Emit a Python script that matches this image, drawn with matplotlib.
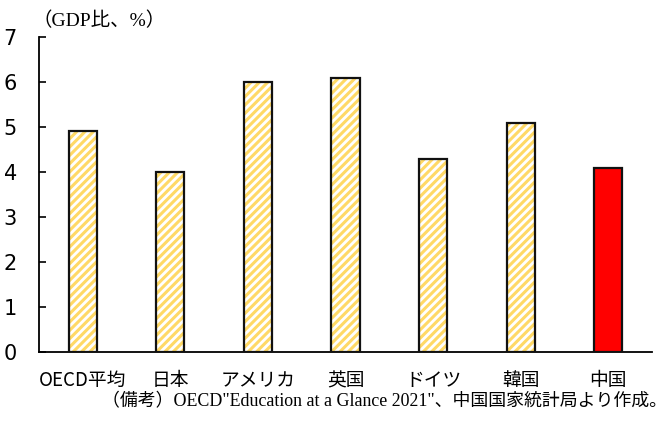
import matplotlib
matplotlib.use("Agg")
import matplotlib.pyplot as plt
import numpy as np

categories = ["OECD平均", "日本", "アメリカ", "英国", "ドイツ", "韓国", "中国"]
values = [4.9, 4.0, 6.0, 6.1, 4.3, 5.1, 4.1]
highlight = "中国"
yticks = [0, 1, 2, 3, 4, 5, 6, 7]

plt.rcParams['font.family'] = ['Noto Sans CJK JP', 'DejaVu Sans']
plt.rcParams['hatch.linewidth'] = 2.2

fig = plt.figure(figsize=(6.69, 4.24), dpi=100)
ax = fig.add_axes([39/669, 1 - 352/424, (652 - 39)/669, (352 - 37)/424])

x = np.arange(len(categories))
w = 0.32
for xi, cat, v in zip(x, categories, values):
    if cat == highlight:
        ax.bar(xi, v, width=w, color='#FF0000', edgecolor='#111111', linewidth=1.6, zorder=3)
    else:
        ax.bar(xi, v, width=w, color='white', edgecolor='#FFD966', hatch='////', linewidth=0, zorder=2)
        ax.bar(xi, v, width=w, fill=False, edgecolor='#111111', linewidth=1.6, zorder=3)

ax.set_xlim(-0.5, len(categories) - 0.5)
ax.set_ylim(0, 7)
ax.set_yticks(yticks)
ax.set_yticklabels([str(t) for t in yticks], fontsize=15,
                   family=['Liberation Sans Narrow', 'DejaVu Sans'])
ax.tick_params(axis='y', direction='in', length=5, width=1.2, pad=16)
ax.set_xticks(x)
ax.set_xticklabels(categories, fontsize=13.5)
ax.tick_params(axis='x', length=0, pad=13)
for s in ['top', 'right']:
    ax.spines[s].set_visible(False)
ax.spines['left'].set_linewidth(1.3)
ax.spines['bottom'].set_linewidth(1.3)

fig.text(33/669, 1 - 21/424, "（GDP比、%）", fontsize=14,
         family=['Liberation Serif', 'Noto Sans CJK JP'], va='center', ha='left')
fig.text(667/669, 1 - 402/424, '（備考）OECD"Education at a Glance 2021"、中国国家統計局より作成。',
         fontsize=12.9, family=['Liberation Serif', 'Noto Sans CJK JP'], va='center', ha='right')

fig.savefig("out.png", dpi=100)
